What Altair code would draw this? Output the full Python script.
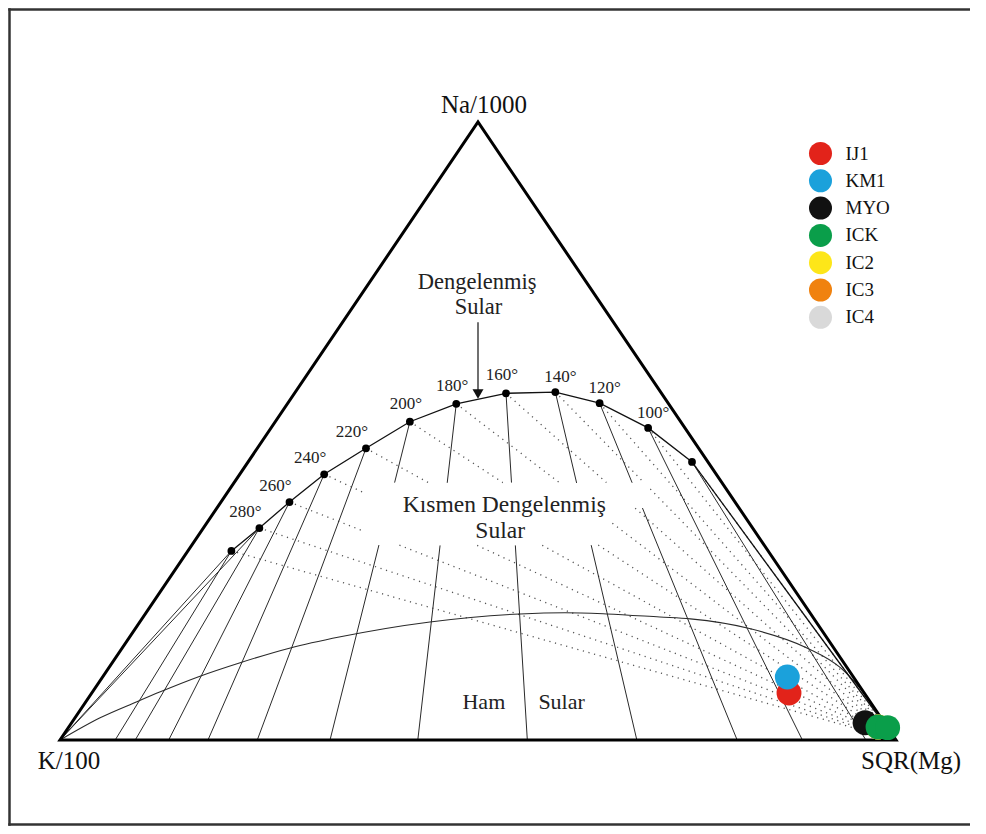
import altair as alt
import numpy as np
import pandas as pd

# ---------------- data (ternary %: Na/1000, K/100, SQR(Mg)) ----------------
VERTEX_NAMES = ["K/100", "SQR(Mg)", "Na/1000"]
VERTEX_NA = [0, 0, 100]
VERTEX_MG = [0, 100, 0]

# full-equilibrium points (temperature, Na %, Mg %)
EQ_T = [300, 280, 260, 240, 220, 200, 180, 160, 140, 120, 100, 80]
EQ_NA = [30.6, 34.3, 38.5, 43.0, 47.2, 51.5, 54.4, 56.1, 56.3, 54.5, 50.5, 45.0]
EQ_MG = [5.2, 6.7, 8.2, 10.1, 13.0, 16.1, 20.2, 25.3, 31.1, 37.3, 45.1, 53.1]
LABEL_LEFT = [280, 260, 240, 220]
LABEL_MID = [200, 180, 160]
LABEL_RIGHT = [140, 120, 100]
# K-Mg isotherm end on the K/100 - SQR(Mg) side (Mg %)
ISO_BASE_MG = [6.6, 9.0, 13.0, 17.7, 23.6, 32.3, 42.8, 55.9, 69.0, 81.0, 88.8, 96.4]
# lines from the K/100 corner
K_RAYS_T = [300, 280]

# immature-water boundary
IMM_NA = [0.0, 3.6, 6.2, 7.8, 10.2, 12.5, 14.9, 16.7, 19.1, 20.4, 20.6, 20.4, 19.9, 19.6, 18.0, 14.9, 11.7, 7.0, 3.9]
IMM_MG = [0.0, 3.0, 6.1, 8.1, 11.4, 15.3, 20.1, 25.2, 34.7, 44.8, 50.1, 55.2, 61.8, 65.6, 73.6, 81.9, 87.5, 93.0, 96.1]

# samples
SAMPLE_ID = ["IC4", "IC3", "IC2", "MYO", "IJ1", "KM1", "ICK", "ICK"]
SAMPLE_NA = [2.1, 2.1, 2.1, 2.8, 7.6, 10.2, 2.1, 2.0]
SAMPLE_MG = [96.8, 96.8, 96.8, 94.9, 83.4, 81.9, 96.8, 98.0]
LEGEND_ORDER = ["IJ1", "KM1", "MYO", "ICK", "IC2", "IC3", "IC4"]
LEGEND_COLORS = ["#e2231a", "#1ba1db", "#111111", "#0a9e4a", "#fde619", "#f0820f", "#d9d9d9"]

# annotation texts (Na %, Mg %)
TOP_TEXT = ["Dengelenmiş", "Sular"]
TOP_NA = [73.0, 68.9]
TOP_MG = [13.4, 15.6]
ANN_TEXT = ["Kısmen Dengelenmiş", "Sular"]
ANN_NA = [36.9, 32.7]
ANN_MG = [34.7, 36.3]
RAW_TEXT = ["Ham", "Sular"]
RAW_NA = [5.0, 5.0]
RAW_MG = [48.2, 57.5]
ARROW_NA = [67.6, 56.0]
ARROW_MG = [16.2, 22.0]

# ---------------- layout constants ----------------
W, H = 970, 818
X0 = -52 / 836
X1 = X0 + W / 836
Y0 = -86 / 618
Y1 = Y0 + H / 618
FONT = "Liberation Serif"
# areas kept clear for the central text (cartesian units)
TEXT_GAPS = [(0.3648, 0.6603, 0.3155, 0.4159), (0.6603, 0.7057, 0.3754, 0.4159)]


def cart(na, mg):
    na = np.asarray(na, float) / 100
    mg = np.asarray(mg, float) / 100
    return mg + na / 2, na


def clip(p0, p1, n=800):
    ts = np.linspace(0, 1, n + 1)
    xs = p0[0] + (p1[0] - p0[0]) * ts
    ys = p0[1] + (p1[1] - p0[1]) * ts
    inside = np.zeros(n + 1, bool)
    for bx0, bx1, by0, by1 in TEXT_GAPS:
        inside |= (xs >= bx0) & (xs <= bx1) & (ys >= by0) & (ys <= by1)
    segs = []
    i = 0
    while i <= n:
        if not inside[i]:
            j = i
            while j + 1 <= n and not inside[j + 1]:
                j += 1
            if j > i:
                segs.append(((xs[i], ys[i]), (xs[j], ys[j])))
            i = j + 1
        else:
            i += 1
    return segs


ex, ey = cart(EQ_NA, EQ_MG)
dots = {t: (x, y) for t, x, y in zip(EQ_T, ex, ey)}
kx, ky = cart([0], [0])
mgx, mgy = cart([0], [100])
K_PT = (kx[0], ky[0])
MG_PT = (mgx[0], mgy[0])

# triangle (closed, base repeated so the K corner is mitred)
tx, ty = cart([0, 0, 100, 0, 0], [0, 100, 0, 0, 100])
tri = pd.DataFrame({"x": tx, "y": ty, "o": range(5)})

# equilibrium curve
eq_line = pd.DataFrame({"x": list(ex) + [MG_PT[0]], "y": list(ey) + [MG_PT[1]], "o": range(len(ex) + 1)})
eq_dots = pd.DataFrame({"x": ex, "y": ey, "t": EQ_T, "label": [f"{t}°" for t in EQ_T]})

# isotherms (solid)
rows = []
sid = 0
bx, by = cart([0] * len(ISO_BASE_MG), ISO_BASE_MG)
for t, x2, y2 in zip(EQ_T, bx, by):
    for a, b in clip(dots[t], (x2, y2)):
        rows += [{"s": sid, "x": a[0], "y": a[1], "o": 0}, {"s": sid, "x": b[0], "y": b[1], "o": 1}]
        sid += 1
for t in K_RAYS_T:
    for a, b in clip(K_PT, dots[t]):
        rows += [{"s": sid, "x": a[0], "y": a[1], "o": 0}, {"s": sid, "x": b[0], "y": b[1], "o": 1}]
        sid += 1
iso = pd.DataFrame(rows)

# Na/K lines (dotted) to the SQR(Mg) corner
rows = []
sid = 0
for t in EQ_T:
    for a, b in clip(dots[t], MG_PT):
        rows += [{"s": sid, "x": a[0], "y": a[1], "o": 0}, {"s": sid, "x": b[0], "y": b[1], "o": 1}]
        sid += 1
nak = pd.DataFrame(rows)

ix, iy = cart(IMM_NA, IMM_MG)
imm = pd.DataFrame({"x": ix, "y": iy, "o": range(len(ix))})

sx, sy = cart(SAMPLE_NA, SAMPLE_MG)
samples = pd.DataFrame({"x": sx, "y": sy, "sample": SAMPLE_ID, "o": range(len(sx))})

vx, vy = cart(VERTEX_NA, VERTEX_MG)
verts = pd.DataFrame({"x": vx, "y": vy, "name": VERTEX_NAMES})


def text_df(texts, na, mg):
    x, y = cart(na, mg)
    return pd.DataFrame({"x": x, "y": y, "text": texts})


top = text_df(TOP_TEXT, TOP_NA, TOP_MG)
ann = text_df(ANN_TEXT, ANN_NA, ANN_MG)
raw = text_df(RAW_TEXT, RAW_NA, RAW_MG)

arx, ary = cart(ARROW_NA, ARROW_MG)
arrow = pd.DataFrame({"x": [0.5], "y": [ary[0]], "y2": [ary[1]]})

# ---------------- encodings ----------------
XS = alt.Scale(domain=[X0, X1], nice=False, zero=False)
YS = alt.Scale(domain=[Y0, Y1], nice=False, zero=False)
X = alt.X("x:Q", scale=XS, axis=None)
Y = alt.Y("y:Q", scale=YS, axis=None)

# outer frame: left, top and bottom sides (the right side lies off the page in the source)
FRAME_STYLE = dict(color="#333333", strokeWidth=2.5)
frame_left = alt.Chart(arrow).mark_rule(**FRAME_STYLE).encode(
    x=alt.value(1.5), y=alt.value(0.25), y2=alt.value(H - 0.25))
frame_top = alt.Chart(arrow).mark_rule(**FRAME_STYLE).encode(
    x=alt.value(0.25), x2=alt.value(W - 8), y=alt.value(1.5))
frame_bottom = alt.Chart(arrow).mark_rule(**FRAME_STYLE).encode(
    x=alt.value(0.25), x2=alt.value(W - 8), y=alt.value(H - 1.5))

dotted = alt.Chart(nak).mark_line(color="#555555", strokeWidth=1.3, strokeDash=[1.2, 4.6]).encode(
    x=X, y=Y, detail="s:N", order="o:Q")
solid = alt.Chart(iso).mark_line(color="#2a2a2a", strokeWidth=1.0).encode(
    x=X, y=Y, detail="s:N", order="o:Q")
immature = alt.Chart(imm).mark_line(color="#2a2a2a", strokeWidth=1.1, interpolate="monotone").encode(
    x=X, y=Y, order="o:Q")
triangle = alt.Chart(tri).mark_line(color="black", strokeWidth=3, strokeJoin="miter").encode(
    x=X, y=Y, order="o:Q")
eq = alt.Chart(eq_line).mark_line(color="#111111", strokeWidth=1.3).encode(x=X, y=Y, order="o:Q")
eqd = alt.Chart(eq_dots).mark_circle(color="black", size=60, opacity=1).encode(x=X, y=Y)


def tlabels(ts, dx, dy):
    return alt.Chart(eq_dots).transform_filter(
        alt.FieldOneOfPredicate(field="t", oneOf=ts)
    ).mark_text(font=FONT, fontSize=17, color="#222222", align="center", baseline="alphabetic",
                dx=dx, dy=dy).encode(x=X, y=Y, text="label:N")


lab_l = tlabels(LABEL_LEFT, -14, -11)
lab_m = tlabels(LABEL_MID, -4, -13)
lab_r = tlabels(LABEL_RIGHT, 5, -10)


def vlabel(name, dx, dy):
    return alt.Chart(verts).transform_filter(
        alt.FieldEqualPredicate(field="name", equal=name)
    ).mark_text(font=FONT, fontSize=25, color="#111111", align="center", baseline="alphabetic",
                dx=dx, dy=dy).encode(x=X, y=Y, text="name:N")


v_k = vlabel("K/100", 9, 29)
v_mg = vlabel("SQR(Mg)", 15, 29)
v_na = vlabel("Na/1000", 6, -9)


def texts(df, size):
    return alt.Chart(df).mark_text(font=FONT, fontSize=size, color="#222222", align="center",
                                   baseline="alphabetic").encode(x=X, y=Y, text="text:N")


top_text = texts(top, 22.5)
ann_text = texts(ann, 23.5)
raw_text = texts(raw, 22)

arrow_line = alt.Chart(arrow).mark_rule(color="#111111", strokeWidth=1.2).encode(
    x=X, y=Y, y2="y2:Q")
arrow_head = alt.Chart(arrow).mark_point(shape="triangle-down", filled=True, color="#111111",
                                         size=120, opacity=1).encode(x=X, y=alt.Y("y2:Q", scale=YS, axis=None))

pts = alt.Chart(samples).mark_circle(size=620, opacity=1).encode(
    x=X, y=Y, order="o:Q",
    color=alt.Color("sample:N",
                    scale=alt.Scale(domain=LEGEND_ORDER, range=LEGEND_COLORS),
                    legend=alt.Legend(title=None, orient="none", legendX=800.5, legendY=133.5,
                                      symbolSize=530, symbolType="circle", symbolOpacity=1,
                                      symbolStrokeWidth=0, labelFont=FONT, labelFontSize=19,
                                      labelColor="#111111", labelOffset=13, rowPadding=3.3,
                                      padding=0)),
)

chart = alt.layer(
    frame_left, frame_top, frame_bottom, dotted, solid, immature, triangle, eq, eqd,
    lab_l, lab_m, lab_r, v_k, v_mg, v_na, top_text, ann_text, raw_text, arrow_line, arrow_head, pts,
).properties(
    width=W, height=H, padding=0, autosize=alt.AutoSizeParams(type="none"),
    background="white",
).configure_view(strokeWidth=0, stroke="transparent")

chart.save("out.html", embed_options={"renderer": "svg", "actions": False})
